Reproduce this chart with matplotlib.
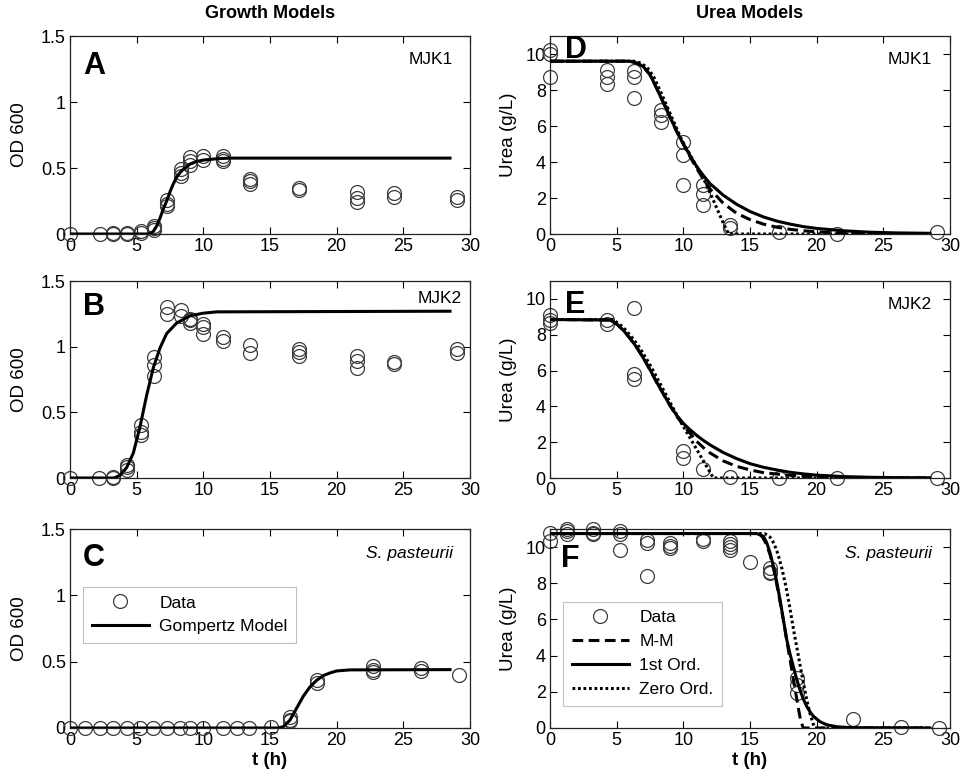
"""Growth (OD 600) and urea models for MJK1, MJK2 and S. pasteurii."""
import matplotlib
matplotlib.use("Agg")
import matplotlib.pyplot as plt

plt.rcParams["font.family"] = ["Liberation Sans", "DejaVu Sans"]

# ---- growth data (OD 600) ----
a_t = [0, 2.25, 3.25, 3.25, 4.25, 4.25, 5.3, 5.3, 6.3, 6.3, 6.3, 7.3, 7.3, 7.3,
       8.3, 8.3, 8.3, 9, 9, 9, 10, 10, 11.5, 11.5, 11.5, 13.5, 13.5, 13.5,
       17.2, 17.2, 21.5, 21.5, 21.5, 24.3, 24.3, 29, 29]
a_od = [0, 0, 0, 0.005, 0, 0.005, 0.01, 0.02, 0.03, 0.045, 0.06, 0.26, 0.23, 0.21,
        0.49, 0.46, 0.44, 0.58, 0.55, 0.52, 0.59, 0.56, 0.59, 0.57, 0.55, 0.42, 0.40, 0.38,
        0.35, 0.33, 0.32, 0.27, 0.24, 0.31, 0.28, 0.28, 0.26]
b_t = [0, 2.2, 3.25, 3.25, 4.3, 4.3, 4.3, 5.3, 5.3, 5.3, 6.3, 6.3, 6.3, 7.3, 7.3,
       8.3, 8.3, 9, 9, 9, 10, 10, 10, 11.5, 11.5, 13.5, 13.5, 17.2, 17.2, 17.2,
       21.5, 21.5, 21.5, 24.3, 24.3, 29, 29]
b_od = [0, 0, 0, 0.005, 0.10, 0.08, 0.06, 0.40, 0.35, 0.33, 0.92, 0.86, 0.78, 1.30, 1.25,
        1.28, 1.23, 1.21, 1.20, 1.18, 1.17, 1.15, 1.10, 1.07, 1.04, 1.01, 0.95, 0.98, 0.96, 0.93,
        0.93, 0.89, 0.84, 0.88, 0.87, 0.98, 0.95]
c_t = [0, 1.1, 2.25, 3.25, 4.25, 5.25, 6.25, 7.25, 8.25, 9, 10, 11.5, 12.5, 13.45, 15.05,
       16.5, 16.5, 16.5, 18.5, 18.5, 22.7, 22.7, 22.7, 26.3, 26.3, 29.2]
c_od = [0, 0, 0, 0, 0, 0, 0, 0, 0, 0, 0, 0, 0, 0, 0.01,
        0.08, 0.06, 0.05, 0.36, 0.34, 0.47, 0.44, 0.42, 0.45, 0.43, 0.40]

# ---- Gompertz fits ----
ga_t = [0, 5.8, 6.0, 6.25, 6.5, 6.75, 7.0, 7.25, 7.5, 7.75, 8.0, 8.25, 8.5, 8.75, 9.0, 9.5, 10, 11, 12, 28.5]
ga_od = [0, 0, 0.003, 0.02, 0.06, 0.12, 0.19, 0.25, 0.32, 0.38, 0.43, 0.465, 0.49, 0.51, 0.53,
         0.55, 0.56, 0.57, 0.575, 0.575]
gb_t = [0, 3.3, 3.75, 4.25, 4.75, 5.25, 5.75, 6.25, 6.75, 7.25, 8.0, 9.0, 10, 11, 28.5]
gb_od = [0, 0, 0.02, 0.08, 0.19, 0.39, 0.63, 0.84, 0.99, 1.10, 1.18, 1.235, 1.255, 1.265, 1.27]
gc_t = [0, 15.6, 16.0, 16.5, 17.0, 17.5, 18.0, 18.5, 19.0, 19.5, 20, 21, 28.5]
gc_od = [0, 0, 0.01, 0.06, 0.15, 0.24, 0.31, 0.36, 0.395, 0.415, 0.43, 0.438, 0.44]

# ---- urea data (g/L) ----
d_t = [0, 0, 0, 4.25, 4.25, 4.25, 6.3, 6.3, 6.3, 8.3, 8.3, 8.3, 10, 10, 10,
       11.5, 11.5, 11.5, 13.5, 13.5, 17.2, 21.5, 29]
d_urea = [10.2, 10.0, 8.7, 9.1, 8.75, 8.35, 9.05, 8.75, 7.55, 6.9, 6.6, 6.2, 5.1, 4.4, 2.7,
          2.7, 2.25, 1.6, 0.5, 0.35, 0.1, 0.02, 0.1]
e_t = [0, 0, 0, 4.25, 4.25, 6.3, 6.3, 6.3, 10, 10, 11.5, 13.5, 17.2, 21.5, 29]
e_urea = [9.1, 8.85, 8.65, 8.8, 8.6, 9.5, 5.8, 5.55, 1.5, 1.1, 0.5, 0.05, 0, 0, 0.02]
f_t = [0, 0, 1.25, 1.25, 1.25, 3.25, 3.25, 3.25, 5.25, 5.25, 5.25, 7.25, 7.25, 7.25,
       9, 9, 9, 11.5, 11.5, 13.5, 13.5, 13.5, 13.5, 15, 16.5, 16.5, 16.5,
       18.5, 18.5, 18.5, 22.7, 26.3, 29.2]
f_urea = [10.8, 10.35, 11.0, 10.9, 10.75, 11.0, 10.8, 10.7, 10.9, 10.75, 9.85, 10.4, 10.25, 8.4,
          10.25, 10.05, 9.95, 10.45, 10.35, 10.35, 10.15, 10.0, 9.85, 9.15, 8.85, 8.65, 8.55,
          2.75, 2.4, 1.95, 0.5, 0.05, 0.0]

# ---- urea model fits: M-M (dashed), 1st order (solid), zero order (dotted) ----
d_mm_t = [0, 6, 6.5, 7, 7.5, 8, 8.5, 9, 9.5, 10, 10.5, 11, 11.5, 12, 13, 14, 15, 16, 17, 18, 19, 20, 22, 24, 28.5]
d_mm = [9.6, 9.6, 9.5, 9.3, 8.85, 8.1, 7.3, 6.5, 5.7, 5.0, 4.3, 3.65, 3.05, 2.5, 1.7, 1.15, 0.8,
        0.55, 0.38, 0.26, 0.18, 0.12, 0.05, 0.02, 0.0]
d_first_t = [0, 6.0, 6.5, 7.0, 7.5, 8.0, 8.5, 9.0, 9.5, 10, 10.5, 11, 11.5, 12, 13, 14, 15, 16, 17,
             18, 19, 20, 22, 24, 26, 28.5]
d_first = [9.6, 9.6, 9.5, 9.3, 8.85, 8.1, 7.3, 6.5, 5.7, 5.0, 4.35, 3.75, 3.25, 2.8, 2.15, 1.65,
           1.25, 0.95, 0.72, 0.55, 0.41, 0.31, 0.18, 0.1, 0.06, 0.04]
d_zero_t = [0, 6.3, 6.8, 7.3, 7.8, 8.3, 8.8, 9.3, 9.8, 10.2, 10.5, 11, 11.5, 12, 12.5, 13, 13.4, 28.5]
d_zero = [9.6, 9.6, 9.5, 9.25, 8.7, 7.9, 7.05, 6.2, 5.35, 4.8, 4.4, 3.75, 3.1, 2.3, 1.45, 0.6, 0.0, 0.0]

e_mm_t = [0, 4.5, 5.0, 5.5, 6.0, 6.5, 7.0, 7.5, 8.0, 8.5, 9.0, 9.5, 10, 10.5, 11, 11.5, 12, 13, 14,
          15, 16, 17, 18, 19, 20, 22, 24, 28.5]
e_mm = [8.85, 8.82, 8.6, 8.25, 7.8, 7.3, 6.7, 6.05, 5.35, 4.7, 4.05, 3.45, 2.95, 2.5, 2.05, 1.7,
        1.4, 0.95, 0.65, 0.45, 0.3, 0.22, 0.15, 0.1, 0.07, 0.03, 0.01, 0.0]
e_first_t = [0, 4.5, 5.0, 5.5, 6.0, 6.5, 7.0, 7.5, 8.0, 8.5, 9.0, 9.5, 10, 10.5, 11, 11.5, 12, 13,
             14, 15, 16, 17, 18, 19, 20, 22, 24, 26, 28.5]
e_first = [8.85, 8.82, 8.6, 8.25, 7.8, 7.3, 6.7, 6.05, 5.35, 4.7, 4.05, 3.5, 3.05, 2.7, 2.38, 2.1,
           1.85, 1.42, 1.08, 0.8, 0.6, 0.45, 0.32, 0.23, 0.16, 0.08, 0.04, 0.02, 0.01]
e_zero_t = [0, 4.7, 5.2, 5.7, 6.2, 6.7, 7.2, 7.7, 8.2, 8.7, 9.2, 9.75, 10.25, 10.75, 11.25, 11.75,
            12.25, 28.5]
e_zero = [8.85, 8.85, 8.6, 8.25, 7.8, 7.3, 6.7, 6.05, 5.35, 4.65, 3.95, 3.2, 2.56, 1.92, 1.28,
          0.64, 0.0, 0.0]

f_mm_t = [0, 15.4, 15.9, 16.2, 16.5, 16.8, 17.1, 17.4, 17.7, 18.0, 18.3, 18.6, 18.8, 19.0, 28.5]
f_mm = [10.75, 10.75, 10.6, 10.2, 9.6, 8.7, 7.6, 6.4, 5.1, 3.8, 2.5, 1.2, 0.4, 0.0, 0.0]
f_first_t = [0, 15.5, 16.0, 16.25, 16.5, 16.75, 17.0, 17.25, 17.5, 17.75, 18.0, 18.25, 18.5,
             18.75, 19.0, 19.25, 19.5, 19.75, 20.25, 20.75, 21.5, 22.5, 28.5]
f_first = [10.75, 10.75, 10.6, 10.25, 9.7, 8.95, 8.1, 7.1, 6.0, 4.9, 4.1, 3.4, 2.7, 2.1, 1.6,
           1.2, 0.9, 0.65, 0.35, 0.18, 0.07, 0.02, 0.0]
f_zero_t = [0, 16.1, 16.5, 16.8, 17.1, 17.4, 17.7, 18.0, 18.3, 18.6, 18.9, 19.2, 19.5, 19.75,
            19.95, 28.5]
f_zero = [10.75, 10.75, 10.55, 10.2, 9.6, 8.8, 7.8, 6.6, 5.3, 4.1, 2.9, 1.75, 0.8, 0.2, 0.0, 0.0]

W, H = 960, 784
TICK_FS = 13
MARK = dict(ls="none", marker="o", ms=10, mfc="none", mec="#3c3c3c", mew=0.9,
            clip_on=False, zorder=2)
LINE = dict(color="black", lw=2.2, zorder=3)
LEG = dict(loc="upper left", fontsize=12.5, frameon=True, fancybox=False,
           edgecolor="#b0b0b0", handlelength=3.3, handletextpad=0.6,
           borderpad=0.5, labelspacing=0.5, borderaxespad=0)


def rect(left, top, bottom, width=400):
    return [left / W, 1 - bottom / H, width / W, (bottom - top) / H]


def style(ax, ylim, yticks, yticklabels):
    ax.set_xlim(0, 30)
    ax.set_xticks([0, 5, 10, 15, 20, 25, 30])
    ax.set_ylim(*ylim)
    ax.set_yticks(yticks)
    ax.set_yticklabels(yticklabels)
    ax.tick_params(direction="in", length=5, width=0.8, top=True, right=True,
                   labelsize=TICK_FS, pad=3)
    for s in ax.spines.values():
        s.set_linewidth(0.9)
        s.set_color("#222222")


fig = plt.figure(figsize=(9.6, 7.84), dpi=100)

rows = [(36, 234), (281, 478), (529, 728)]
growth = [(a_t, a_od, ga_t, ga_od, "A", "MJK1"),
          (b_t, b_od, gb_t, gb_od, "B", "MJK2"),
          (c_t, c_od, gc_t, gc_od, "C", "S. pasteurii")]
urea = [(d_t, d_urea, d_mm_t, d_mm, d_first_t, d_first, d_zero_t, d_zero, "D", "MJK1"),
        (e_t, e_urea, e_mm_t, e_mm, e_first_t, e_first, e_zero_t, e_zero, "E", "MJK2"),
        (f_t, f_urea, f_mm_t, f_mm, f_first_t, f_first, f_zero_t, f_zero, "F", "S. pasteurii")]

letter_pos_l = [(0.032, 0.85), (0.032, 0.87), (0.032, 0.855)]
name_pos_l = [(0.957, 0.88), (0.98, 0.91), (0.957, 0.875)]
letter_pos_r = [(0.037, 0.93), (0.037, 0.878), (0.027, 0.85)]
name_pos_r = [(0.955, 0.88), (0.955, 0.88), (0.955, 0.875)]

for i, ((top, bot), g, u) in enumerate(zip(rows, growth, urea)):
    # growth panel
    ax = fig.add_axes(rect(70, top, bot))
    t, y, mt, my, letter, name = g
    ax.plot(t, y, label="Data", **MARK)
    ax.plot(mt, my, label="Gompertz Model", **LINE)
    style(ax, (0, 1.5), [0, 0.5, 1, 1.5], ["0", "0.5", "1", "1.5"])
    ax.set_ylabel("OD 600", fontsize=13.5)
    ax.yaxis.set_label_coords(-0.105, 0.5)
    ax.text(*letter_pos_l[i], letter, transform=ax.transAxes, fontsize=22,
            fontweight="bold", va="center", ha="left")
    ax.text(*name_pos_l[i], name, transform=ax.transAxes, fontsize=12.5, ha="right",
            va="center", style="italic" if i == 2 else "normal")
    if i == 0:
        ax.set_title("Growth Models", fontsize=13, fontweight="bold", pad=13)
    if i == 2:
        ax.set_xlabel("t (h)", fontsize=13.5, fontweight="bold", labelpad=2)
        leg = ax.legend(bbox_to_anchor=(0.0325, 0.71), **LEG)
        leg.get_frame().set_linewidth(0.8)

    # urea panel
    ax = fig.add_axes(rect(550, top, bot))
    t, y, mmt, mm, ft, fy, zt, zy, letter, name = u
    ax.plot(t, y, label="Data", **MARK)
    ax.plot(mmt, mm, ls=(0, (3.5, 1.8)), label="M-M", **LINE)
    ax.plot(ft, fy, ls="-", label="1st Ord.", **LINE)
    ax.plot(zt, zy, ls=(0, (0.9, 0.9)), label="Zero Ord.", **LINE)
    style(ax, (0, 11), [0, 2, 4, 6, 8, 10], ["0", "2", "4", "6", "8", "10"])
    ax.set_ylabel("Urea (g/L)", fontsize=13.5)
    ax.yaxis.set_label_coords(-0.0825, 0.5)
    ax.text(*letter_pos_r[i], letter, transform=ax.transAxes, fontsize=22,
            fontweight="bold", va="center", ha="left")
    ax.text(*name_pos_r[i], name, transform=ax.transAxes, fontsize=12.5, ha="right",
            va="center", style="italic" if i == 2 else "normal")
    if i == 0:
        ax.set_title("Urea Models", fontsize=13, fontweight="bold", pad=13)
    if i == 2:
        ax.set_xlabel("t (h)", fontsize=13.5, fontweight="bold", labelpad=2)
        leg = ax.legend(bbox_to_anchor=(0.0325, 0.635), **LEG)
        leg.get_frame().set_linewidth(0.8)

fig.savefig("out.png", dpi=100)
